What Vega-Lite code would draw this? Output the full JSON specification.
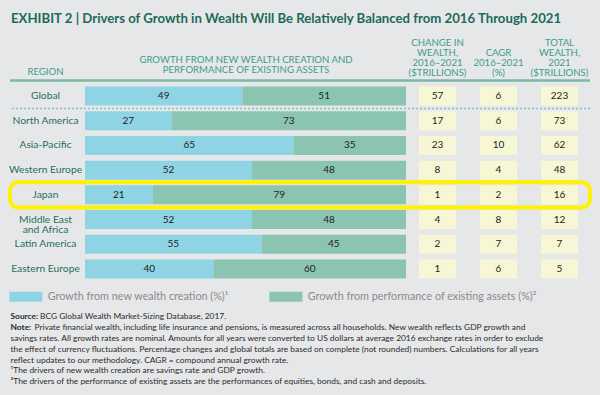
{
  "$schema": "https://vega.github.io/schema/vega-lite/v6.json",
  "background": "#e6e7e9",
  "padding": {"left": 8, "right": 8, "top": 11, "bottom": 9},
  "config": {
    "view": {"stroke": null},
    "font": "Lato",
    "axis": {"grid": false}
  },
  "title": {
    "text": "EXHIBIT 2 | Drivers of Growth in Wealth Will Be Relatively Balanced from 2016 Through 2021",
    "anchor": "start",
    "font": "Lato",
    "fontSize": 13.2,
    "fontWeight": "bold",
    "color": "#1c6b58",
    "offset": 11,
    "dx": 3
  },
  "spacing": 25.5,
  "vconcat": [
    {
      "width": 580,
      "height": 205,
      "data": {
        "values": [
          {"region": "Global", "new": 49, "existing": 51, "change": 57, "cagr": 6, "total": 223},
          {"region": "North America", "new": 27, "existing": 73, "change": 17, "cagr": 6, "total": 73},
          {"region": "Asia-Pacific", "new": 65, "existing": 35, "change": 23, "cagr": 10, "total": 62},
          {"region": "Western Europe", "new": 52, "existing": 48, "change": 8, "cagr": 4, "total": 48},
          {"region": "Japan", "new": 21, "existing": 79, "change": 1, "cagr": 2, "total": 16},
          {"region": "Middle East and Africa", "new": 52, "existing": 48, "change": 4, "cagr": 8, "total": 12},
          {"region": "Latin America", "new": 55, "existing": 45, "change": 2, "cagr": 7, "total": 7},
          {"region": "Eastern Europe", "new": 40, "existing": 60, "change": 1, "cagr": 6, "total": 5}
        ]
      },
      "layer": [
        {
          "transform": [{"fold": ["new", "existing"], "as": ["part", "pct"]}],
          "layer": [
            {
              "mark": {"type": "bar"},
              "encoding": {
                "y": {
                  "field": "region",
                  "type": "nominal",
                  "scale": {
                    "domain": ["Global", "North America", "Asia-Pacific", "Western Europe", "Japan", "Middle East and Africa", "Latin America", "Eastern Europe"],
                    "paddingInner": 0.23,
                    "paddingOuter": 0.263
                  },
                  "axis": {
                    "orient": "left",
                    "offset": -75,
                    "domain": false,
                    "ticks": false,
                    "tickSize": 0,
                    "labelPadding": 40,
                    "labelAlign": "center",
                    "labelBaseline": "middle",
                    "labelFontSize": 10.3,
                    "labelColor": "#1f6f5d",
                    "labelLineHeight": 10.5,
                    "labelExpr": "datum.value == 'Middle East and Africa' ? ['Middle East', 'and Africa'] : datum.value",
                    "title": "REGION",
                    "titleAngle": 0,
                    "titleAlign": "center",
                    "titleBaseline": "alphabetic",
                    "titleX": -40,
                    "titleY": -6,
                    "titleFontSize": 9.6,
                    "titleFontWeight": "normal",
                    "titleColor": "#3f9c89"
                  }
                },
                "x": {
                  "field": "pct",
                  "type": "quantitative",
                  "stack": "zero",
                  "scale": {"domain": [0, 100], "range": [75, 396], "nice": false},
                  "axis": {
                    "orient": "top",
                    "labels": false,
                    "ticks": false,
                    "domain": false,
                    "grid": false,
                    "title": ["GROWTH FROM NEW WEALTH CREATION AND", "PERFORMANCE OF EXISTING ASSETS"],
                    "titlePadding": 5,
                    "titleFontSize": 9.6,
                    "titleFontWeight": "normal",
                    "titleColor": "#3f9c89",
                    "titleLineHeight": 10.3
                  }
                },
                "color": {
                  "field": "part",
                  "type": "nominal",
                  "scale": {"domain": ["new", "existing"], "range": ["#8fd4e4", "#8cc4b2"]},
                  "legend": {
                    "orient": "none",
                    "legendX": -1,
                    "legendY": 211,
                    "direction": "horizontal",
                    "columns": 2,
                    "title": null,
                    "padding": 0,
                    "symbolType": "M-1,-1H5.6V1H-1Z",
                    "symbolSize": 100,
                    "symbolStrokeWidth": 0,
                    "labelOffset": 28,
                    "labelLimit": 400,
                    "columnPadding": 40,
                    "labelFontSize": 10.8,
                    "labelColor": "#8a8a8a",
                    "labelExpr": "datum.value == 'new' ? 'Growth from new wealth creation (%)¹' : 'Growth from performance of existing assets (%)²'"
                  }
                },
                "order": {"field": "part", "sort": "descending"}
              }
            },
            {
              "mark": {"type": "text", "fontSize": 10, "color": "#222222"},
              "encoding": {
                "y": {"field": "region", "type": "nominal"},
                "x": {"field": "pct", "type": "quantitative", "stack": "zero", "bandPosition": 0.5},
                "detail": {"field": "part"},
                "order": {"field": "part", "sort": "descending"},
                "text": {"field": "pct", "type": "quantitative"}
              }
            }
          ]
        },
        {
          "transform": [{"fold": ["change", "cagr", "total"], "as": ["metric", "val"]}],
          "layer": [
            {
              "mark": {"type": "rect", "color": "#f7f7d6"},
              "encoding": {
                "y": {"field": "region", "type": "nominal"},
                "x": {
                  "field": "metric",
                  "type": "nominal",
                  "scale": {"domain": ["change", "cagr", "total"], "range": [397, 580], "paddingInner": 0.393, "paddingOuter": 0.197},
                  "axis": {
                    "orient": "top",
                    "title": null,
                    "ticks": false,
                    "domain": false,
                    "labelAngle": 0,
                    "labelPadding": 43,
                    "labelBaseline": "top",
                    "labelFontSize": 9.6,
                    "labelLineHeight": 10.2,
                    "labelColor": "#3f9c89",
                    "labelExpr": "datum.value == 'change' ? ['CHANGE IN', 'WEALTH,', '2016–2021', '($TRILLIONS)'] : datum.value == 'cagr' ? ['', 'CAGR', '2016–2021', '(%)'] : ['TOTAL', 'WEALTH,', '2021', '($TRILLIONS)']"
                  }
                }
              }
            },
            {
              "mark": {"type": "text", "fontSize": 10, "color": "#222222"},
              "encoding": {
                "y": {"field": "region", "type": "nominal"},
                "x": {"field": "metric", "type": "nominal"},
                "text": {"field": "val", "type": "quantitative"}
              }
            }
          ]
        },
        {
          "data": {"values": [{}]},
          "mark": {"type": "rule", "stroke": "#7cb9a5", "strokeWidth": 2.5},
          "encoding": {"y": {"datum": "Global", "type": "nominal", "bandPosition": -0.316}}
        },
        {
          "data": {"values": [{}]},
          "mark": {"type": "rule", "stroke": "#80c4c2", "strokeWidth": 1.5, "strokeDash": [2, 2]},
          "encoding": {"y": {"datum": "Global", "type": "nominal", "bandPosition": 1.158}}
        },
        {
          "data": {"values": [{}]},
          "mark": {"type": "rect", "filled": false, "color": "#fff200", "strokeWidth": 4, "cornerRadius": 8},
          "encoding": {
            "y": {"datum": "Japan", "type": "nominal", "bandPosition": -0.16},
            "y2": {"datum": "Japan", "bandPosition": 1.16}
          }
        }
      ],
      "resolve": {"scale": {"x": "independent"}, "axis": {"x": "independent"}}
    },
    {
      "width": 1,
      "height": {"step": 10.9},
      "data": {
        "values": [
          {"n": 1, "lead": "Source:", "body": "BCG Global Wealth Market-Sizing Database, 2017."},
          {"n": 2, "lead": "Note:", "body": "Private financial wealth, including life insurance and pensions, is measured across all households. New wealth reflects GDP growth and"},
          {"n": 3, "lead": null, "body": "savings rates. All growth rates are nominal. Amounts for all years were converted to US dollars at average 2016 exchange rates in order to exclude"},
          {"n": 4, "lead": null, "body": "the effect of currency fluctuations. Percentage changes and global totals are based on complete (not rounded) numbers. Calculations for all years"},
          {"n": 5, "lead": null, "body": "reflect updates to our methodology. CAGR = compound annual growth rate."},
          {"n": 6, "lead": null, "body": "¹The drivers of new wealth creation are savings rate and GDP growth."},
          {"n": 7, "lead": null, "body": "²The drivers of the performance of existing assets are the performances of equities, bonds, and cash and deposits."}
        ]
      },
      "encoding": {"y": {"field": "n", "type": "ordinal", "axis": null}},
      "layer": [
        {
          "transform": [{"filter": "datum.lead != null"}],
          "mark": {"type": "text", "align": "left", "baseline": "middle", "fontSize": 8.4, "fontWeight": "bold", "color": "#2b2b2b"},
          "encoding": {"text": {"field": "lead"}}
        },
        {
          "transform": [{"filter": "datum.lead == 'Source:'"}],
          "mark": {"type": "text", "align": "left", "baseline": "middle", "fontSize": 8.4, "color": "#2b2b2b", "dx": 29.5},
          "encoding": {"text": {"field": "body"}}
        },
        {
          "transform": [{"filter": "datum.lead == 'Note:'"}],
          "mark": {"type": "text", "align": "left", "baseline": "middle", "fontSize": 8.4, "color": "#2b2b2b", "dx": 24},
          "encoding": {"text": {"field": "body"}}
        },
        {
          "transform": [{"filter": "datum.lead == null"}],
          "mark": {"type": "text", "align": "left", "baseline": "middle", "fontSize": 8.4, "color": "#2b2b2b"},
          "encoding": {"text": {"field": "body"}}
        }
      ]
    }
  ]
}
